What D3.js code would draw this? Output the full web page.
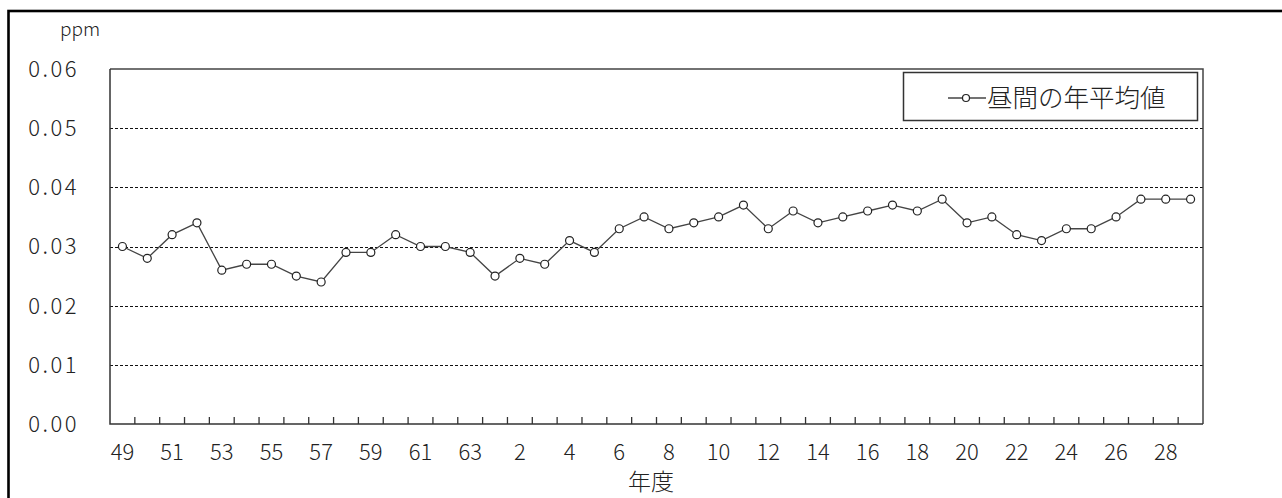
<!DOCTYPE html>
<html><head><meta charset="utf-8">
<script src="https://cdn.jsdelivr.net/npm/d3@7"></script>
<style>
html,body{margin:0;padding:0;background:#fff;}
svg{display:block;}
text{font-family:"Noto Sans CJK JP","Noto Sans",sans-serif;font-weight:300;fill:#222;}
</style></head>
<body>
<svg id="c" width="1282" height="498"></svg>
<script>
const categories = ["49","50","51","52","53","54","55","56","57","58","59","60","61","62","63",
  "元","2","3","4","5","6","7","8","9","10","11","12","13","14","15","16","17","18","19","20",
  "21","22","23","24","25","26","27","28","29"];
const values = [0.030,0.028,0.032,0.034,0.026,0.027,0.027,0.025,0.024,0.029,0.029,0.032,0.030,0.030,0.029,
  0.025,0.028,0.027,0.031,0.029,0.033,0.035,0.033,0.034,0.035,0.037,0.033,0.036,0.034,0.035,0.036,0.037,0.036,0.038,0.034,
  0.035,0.032,0.031,0.033,0.033,0.035,0.038,0.038,0.038];
const xTickLabels = ["49","51","53","55","57","59","61","63","2","4","6","8","10","12","14","16","18","20","22","24","26","28"];
const yTicks = [0,0.01,0.02,0.03,0.04,0.05,0.06];
const seriesName = "昼間の年平均値";
const xTitle = "年度";
const yUnit = "ppm";

const svg = d3.select("#c");
const L = 110, R = 1203, T = 69, B = 424;

// outer frame
svg.append("rect").attr("x",8.5).attr("y",11).attr("width",1290).attr("height",500)
  .attr("fill","none").attr("stroke","#000").attr("stroke-width",2.6);

const x = d3.scaleBand().domain(categories).range([L,R]).paddingInner(0).paddingOuter(0);
const y = d3.scaleLinear().domain([0,0.06]).range([B,T]);

// grid lines
svg.append("g").selectAll("line").data(yTicks.filter(v=>v>0 && v<0.06)).join("line")
  .attr("x1",L).attr("x2",R).attr("y1",d=>Math.round(y(d))+0.5).attr("y2",d=>Math.round(y(d))+0.5)
  .attr("stroke","#111").attr("stroke-width",1).attr("stroke-dasharray","3,2");

// plot frame
svg.append("path").attr("d",`M${L},${T}H${R}V${B}`).attr("fill","none").attr("stroke","#444").attr("stroke-width",1.5);
svg.append("path").attr("d",`M${L},${T}V${B}H${R}`).attr("fill","none").attr("stroke","#333").attr("stroke-width",1.5);

// x ticks (inward, at category boundaries)
svg.append("g").selectAll("line").data(categories.slice(1)).join("line")
  .attr("x1",d=>x(d)).attr("x2",d=>x(d)).attr("y1",B).attr("y2",B-7)
  .attr("stroke","#333").attr("stroke-width",1.3);

// y tick labels
svg.append("g").selectAll("text").data(yTicks).join("text")
  .attr("x",79).attr("y",d=>y(d)).attr("dy","0.36em").attr("text-anchor","end")
  .attr("font-size",22).attr("letter-spacing","2.5px").text(d=>d.toFixed(2));

// x tick labels
svg.append("g").selectAll("text").data(xTickLabels).join("text")
  .attr("x",d=>x(d)+x.bandwidth()/2).attr("y",460).attr("text-anchor","middle")
  .attr("font-size",22).text(d=>d);

svg.append("text").attr("x",651).attr("y",490).attr("text-anchor","middle").attr("font-size",23).text(xTitle);
svg.append("text").attr("x",80).attr("y",36).attr("text-anchor","middle").attr("font-size",19).text(yUnit);

// line
const line = d3.line().x((d,i)=>x(categories[i])+x.bandwidth()/2).y(d=>y(d));
svg.append("path").datum(values).attr("d",line).attr("fill","none").attr("stroke","#444").attr("stroke-width",1.3);
svg.append("g").selectAll("circle").data(values).join("circle")
  .attr("cx",(d,i)=>x(categories[i])+x.bandwidth()/2).attr("cy",d=>y(d)).attr("r",4)
  .attr("fill","#fff").attr("stroke","#222").attr("stroke-width",1.2);

// legend
const lg = svg.append("g");
lg.append("rect").attr("x",903.5).attr("y",72.5).attr("width",294).attr("height",48)
  .attr("fill","#fff").attr("stroke","#333").attr("stroke-width",1.5);
lg.append("line").attr("x1",948).attr("x2",986).attr("y1",98).attr("y2",98).attr("stroke","#444").attr("stroke-width",1.3);
lg.append("circle").attr("cx",966).attr("cy",98).attr("r",3.5).attr("fill","#fff").attr("stroke","#222").attr("stroke-width",1.2);
lg.append("text").attr("x",987).attr("y",98).attr("dy","0.36em").attr("font-size",25.5).text(seriesName);
</script>
</body></html>
